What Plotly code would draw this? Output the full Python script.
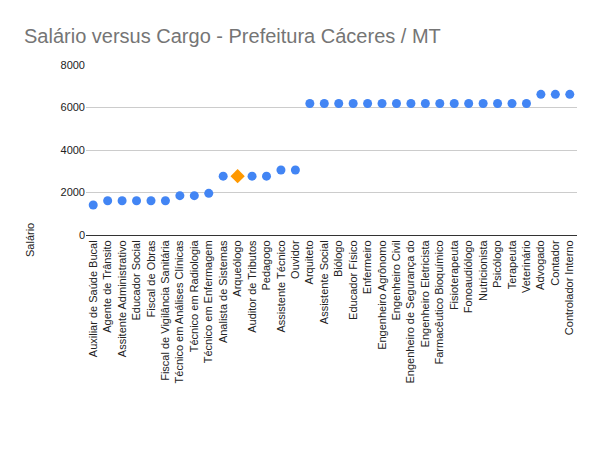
import plotly.graph_objects as go

cargos = [
    "Auxiliar de Saúde Bucal", "Agente de Trânsito", "Assitente Administrativo",
    "Educador Social", "Fiscal de Obras", "Fiscal de Vigilância Sanitária",
    "Técnico em Análises Clínicas", "Técnico em Radiologia", "Técnico em Enfermagem",
    "Analista de Sistemas", "Arqueólogo", "Auditor de Tributos", "Pedagogo",
    "Assistente Técnico", "Ouvidor", "Arquiteto", "Assistente Social", "Biólogo",
    "Educador Físico", "Enfermeiro", "Engenheiro Agrônomo", "Engenheiro Civil",
    "Engenheiro de Segurança do", "Engenheiro Eletricista", "Farmacêutico Bioquímico",
    "Fisioterapeuta", "Fonoaudiólogo", "Nutricionista", "Psicólogo", "Terapeuta",
    "Veterinário", "Advogado", "Contador", "Controlador Interno",
]
salarios = [
    1410, 1610, 1610, 1610, 1610, 1610, 1850, 1850, 1960, 2770, 2770, 2770, 2770,
    3060, 3060, 6190, 6190, 6190, 6190, 6190, 6190, 6190, 6190, 6190, 6190, 6190,
    6190, 6190, 6190, 6190, 6190, 6620, 6620, 6620,
]
destaque = "Arqueólogo"

cores = ["#ff9900" if c == destaque else "#4285f4" for c in cargos]
simbolos = ["diamond" if c == destaque else "circle" for c in cargos]
tamanhos = [11 if c == destaque else 9 for c in cargos]

# the page body adds an 8px offset, so the figure is a bit smaller than the window
W, H = 592, 464

fig = go.Figure()
fig.add_trace(
    go.Scatter(
        x=cargos,
        y=salarios,
        mode="markers",
        marker=dict(color=cores, symbol=simbolos, size=tamanhos, opacity=1,
                    line=dict(width=0)),
        name="Salário",
    )
)

fig.update_layout(
    width=W,
    height=H,
    paper_bgcolor="white",
    plot_bgcolor="white",
    showlegend=False,
    font=dict(family="Liberation Sans, Arial", size=11, color="#222222"),
    margin=dict(l=78, r=23, t=57, b=237, autoexpand=False),
    title=dict(
        text="Salário versus Cargo - Prefeitura Cáceres / MT",
        x=16 / W,
        xanchor="left",
        y=1 - 28 / H,
        yanchor="middle",
        font=dict(size=20, color="#757575"),
    ),
    xaxis=dict(
        type="category",
        range=[-0.5, len(cargos) - 0.5],
        automargin=False,
        tickangle=-90,
        showgrid=False,
        showline=True,
        linecolor="#333333",
        linewidth=1,
        ticks="",
        tickfont=dict(size=11, color="#222222"),
    ),
    yaxis=dict(
        automargin=False,
        range=[0, 8000],
        dtick=2000,
        showgrid=True,
        gridcolor="#cccccc",
        zeroline=False,
        ticks="",
        tickfont=dict(size=11, color="#222222"),
    ),
    annotations=[
        dict(
            text="Salário",
            textangle=-90,
            xref="paper",
            yref="paper",
            x=(30 - 86) / 491,
            y=(235 - 240) / 170,
            xanchor="center",
            yanchor="middle",
            showarrow=False,
            font=dict(size=11, color="#222222"),
        )
    ],
)

fig.write_html("out.html")
